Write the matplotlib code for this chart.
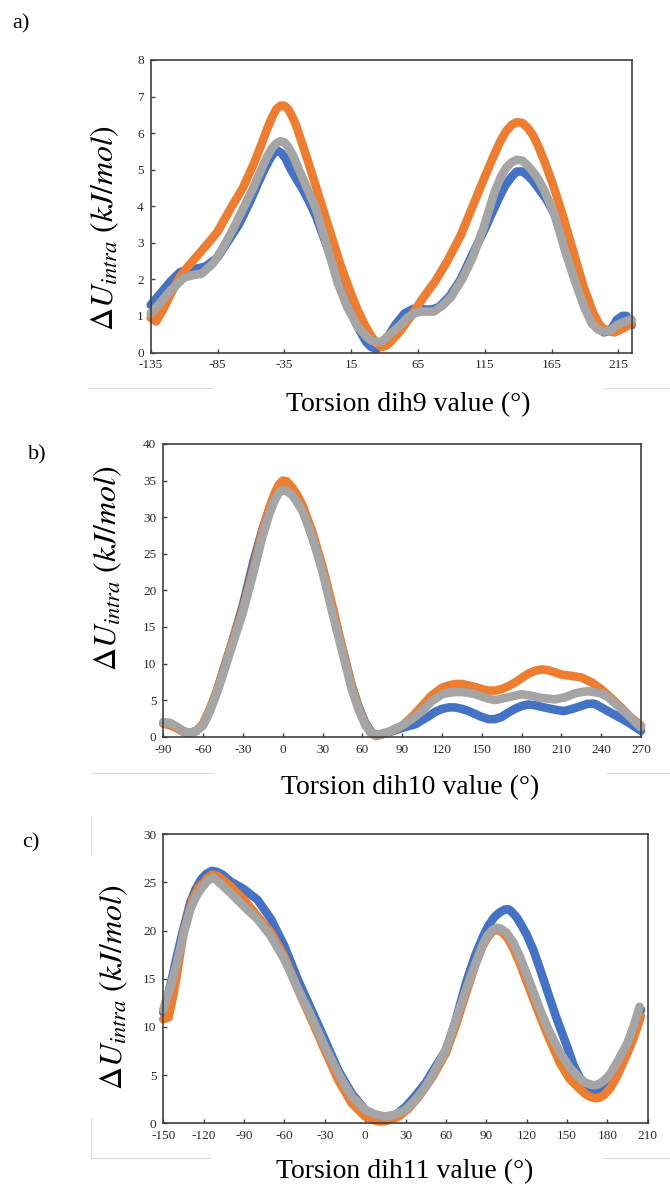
import numpy as np
import matplotlib
matplotlib.use("Agg")
import matplotlib.pyplot as plt
from matplotlib.lines import Line2D

plt.rcParams['font.family'] = ['Liberation Serif', 'DejaVu Serif']
plt.rcParams['mathtext.fontset'] = 'stix'
plt.rcParams['axes.unicode_minus'] = False

BLUE, ORANGE, GRAY = '#4472C4', '#ED7D31', '#A5A5A5'

# ---- panel a: dih9 ----
a_blue_x = [-135, -128, -120, -113, -106, -100, -94, -85, -77, -69, -61, -55, -50, -46, -43, -40, -37, -34, -30,
            -26, -21, -16, -11, -6, -1, 5, 12, 20, 26, 30, 34, 38, 42, 48, 55, 62, 67, 71, 76, 81, 89, 97, 106,
            116, 124, 130, 135, 139, 143, 147, 151, 156, 161, 167, 175, 183, 190, 198, 204, 209, 214, 218, 221,
            225]
a_blue_y = [1.3, 1.6, 1.95, 2.2, 2.28, 2.3, 2.35, 2.6, 3.05, 3.5, 4.1, 4.6, 5.0, 5.28, 5.45, 5.52, 5.45, 5.3, 5.0,
            4.75, 4.45, 4.1, 3.7, 3.2, 2.7, 2.1, 1.35, 0.7, 0.3, 0.15, 0.1, 0.2, 0.4, 0.75, 1.07, 1.2, 1.2, 1.17,
            1.18, 1.25, 1.55, 2.0, 2.7, 3.45, 4.1, 4.55, 4.8, 4.95, 4.95, 4.85, 4.7, 4.45, 4.2, 3.8, 3.0, 2.1, 1.4,
            0.8, 0.55, 0.6, 0.9, 1.0, 1.0, 0.75]
a_orange_x = [-135, -131, -126, -120, -113, -106, -100, -93, -85, -75, -66, -58, -52, -48, -44, -41, -38, -35, -32,
              -29, -26, -22, -17, -11, -5, 1, 7, 14, 20, 26, 30, 34, 38, 42, 46, 52, 60, 68, 78, 87, 97, 106, 115,
              122, 127, 131, 135, 139, 143, 147, 151, 155, 160, 166, 173, 181, 189, 196, 201, 206, 212, 218, 225]
a_orange_y = [0.95, 0.85, 1.15, 1.6, 2.08, 2.4, 2.65, 2.95, 3.3, 3.95, 4.5, 5.15, 5.7, 6.1, 6.45, 6.65, 6.75, 6.75,
              6.65, 6.45, 6.2, 5.75, 5.2, 4.5, 3.8, 3.1, 2.4, 1.7, 1.15, 0.7, 0.45, 0.25, 0.15, 0.2, 0.35, 0.6, 1.0,
              1.45, 1.95, 2.5, 3.2, 4.0, 4.8, 5.4, 5.8, 6.05, 6.22, 6.3, 6.28, 6.15, 5.95, 5.65, 5.2, 4.6, 3.8, 2.8,
              1.8, 1.1, 0.75, 0.6, 0.55, 0.65, 0.8]
a_gray_x = [-135, -128, -120, -110, -103, -97, -88, -82, -75, -67, -59, -53, -48, -44, -41, -38, -35, -32, -28,
            -24, -18, -11, -3, 5, 12, 20, 26, 30, 34, 38, 45, 52, 58, 63, 68, 73, 77, 84, 90, 98, 106, 114, 122,
            127, 131, 135, 139, 143, 147, 151, 155, 160, 167, 175, 183, 190, 195, 200, 204, 209, 214, 220, 225]
a_gray_y = [1.07, 1.35, 1.7, 2.05, 2.12, 2.15, 2.45, 2.8, 3.26, 3.85, 4.45, 4.95, 5.35, 5.6, 5.72, 5.78, 5.75, 5.62,
            5.35, 5.0, 4.5, 3.9, 2.9, 1.9, 1.25, 0.7, 0.45, 0.33, 0.28, 0.3, 0.53, 0.75, 0.98, 1.08, 1.12, 1.12,
            1.12, 1.3, 1.53, 2.0, 2.6, 3.4, 4.35, 4.8, 5.05, 5.2, 5.27, 5.25, 5.12, 4.95, 4.75, 4.4, 3.8, 2.8, 1.9,
            1.2, 0.8, 0.62, 0.57, 0.6, 0.75, 0.85, 0.9]

# ---- panel b: dih10 ----
b_blue_x = [-90, -85, -80, -75, -70, -65, -60, -55, -50, -45, -38, -30, -22, -15, -10, -6, -3, 0, 3, 7, 11, 15, 20,
            30, 38, 45, 52, 57, 62, 67, 72, 80, 90, 100, 110, 115, 120, 125, 130, 135, 140, 145, 150, 155, 160,
            165, 170, 175, 180, 185, 190, 197, 205, 212, 220, 225, 230, 235, 240, 250, 260, 270]
b_blue_y = [1.8, 1.6, 1.2, 0.7, 0.5, 0.8, 1.6, 3.5, 6.0, 9.0, 13.0, 18.0, 24.0, 28.5, 31.2, 33.0, 34.0, 34.4, 34.3,
            33.6, 32.5, 31.0, 28.5, 23.0, 17.0, 12.0, 7.0, 4.2, 2.0, 0.5, 0.2, 0.6, 1.2, 1.7, 2.8, 3.4, 3.8, 4.0,
            4.0, 3.8, 3.5, 3.1, 2.7, 2.4, 2.4, 2.7, 3.3, 3.8, 4.2, 4.4, 4.3, 4.0, 3.7, 3.5, 3.9, 4.2, 4.5, 4.5, 4.0,
            3.0, 2.0, 0.8]
b_orange_x = [-90, -85, -80, -75, -70, -65, -60, -55, -50, -45, -38, -30, -22, -15, -10, -6, -3, 0, 3, 7, 11, 15,
              22, 30, 38, 45, 52, 57, 62, 66, 70, 74, 80, 90, 98, 105, 112, 120, 125, 130, 135, 140, 145, 150, 155,
              160, 165, 170, 175, 180, 185, 190, 195, 200, 205, 210, 218, 225, 233, 240, 248, 255, 262, 270]
b_orange_y = [1.8, 1.6, 1.2, 0.7, 0.5, 0.8, 1.8, 3.8, 6.1, 8.8, 13.0, 17.4, 23.0, 28.3, 31.3, 33.3, 34.4, 35.0, 34.9,
              34.1, 33.0, 31.6, 28.2, 23.3, 17.5, 12.0, 7.0, 4.0, 1.8, 0.6, 0.1, 0.3, 0.6, 1.5, 2.8, 4.2, 5.6, 6.7,
              7.0, 7.2, 7.2, 7.0, 6.8, 6.5, 6.3, 6.3, 6.5, 6.9, 7.4, 8.0, 8.6, 9.0, 9.2, 9.1, 8.8, 8.5, 8.3, 8.1,
              7.4, 6.5, 5.2, 4.0, 2.7, 1.5]
b_gray_x = [-90, -85, -80, -75, -70, -65, -60, -55, -50, -45, -38, -30, -22, -15, -10, -6, -3, 0, 3, 7, 10, 15, 22,
            30, 38, 45, 52, 57, 62, 66, 70, 74, 80, 90, 98, 105, 112, 120, 125, 130, 135, 140, 145, 150, 155, 160,
            165, 170, 175, 180, 187, 195, 205, 213, 220, 225, 230, 235, 240, 245, 252, 260, 265, 270]
b_gray_y = [2.0, 1.9, 1.4, 0.8, 0.5, 0.8, 1.6, 3.5, 5.8, 8.5, 12.5, 17.0, 22.5, 27.5, 30.5, 32.3, 33.3, 33.7, 33.6,
            33.0, 32.3, 30.8, 27.5, 22.5, 16.5, 11.5, 6.5, 3.8, 1.7, 0.6, 0.2, 0.4, 0.7, 1.5, 2.5, 3.5, 4.8, 5.8,
            6.0, 6.1, 6.1, 6.0, 5.8, 5.5, 5.2, 5.0, 5.2, 5.4, 5.6, 5.8, 5.6, 5.3, 5.1, 5.4, 5.9, 6.1, 6.2, 6.1, 5.9,
            5.4, 4.3, 3.0, 2.1, 1.3]

# ---- panel c: dih11 ----
c_blue_x = [-150, -147, -143, -140, -135, -130, -126, -122, -118, -114, -110, -106, -100, -90, -80, -70, -60, -50,
            -40, -30, -20, -10, 0, 8, 15, 22, 30, 37, 45, 52, 60, 67, 75, 82, 88, 92, 96, 100, 104, 107, 110, 113,
            116, 120, 125, 130, 135, 142, 150, 155, 160, 164, 168, 171, 174, 178, 182, 187, 195, 200, 205]
c_blue_y = [11.5, 13.0, 15.4, 17.3, 20.2, 22.9, 24.3, 25.3, 25.9, 26.2, 26.1, 25.8, 25.1, 24.3, 23.2, 21.2, 18.4,
            14.9, 11.8, 8.7, 5.5, 3.1, 1.4, 0.7, 0.5, 0.8, 1.7, 2.8, 4.2, 5.8, 7.6, 10.5, 14.6, 17.5, 19.5, 20.6,
            21.4, 21.9, 22.2, 22.2, 21.8, 21.3, 20.6, 19.6, 18.0, 16.0, 13.9, 11.0, 8.0, 6.0, 4.6, 3.9, 3.55, 3.45,
            3.6, 4.0, 4.7, 5.8, 8.3, 10.0, 11.8]
c_orange_x = [-150, -146, -143, -140, -135, -128, -124, -120, -117, -114, -110, -107, -100, -90, -80, -70, -60, -50,
              -40, -30, -20, -10, 0, 6, 10, 14, 17, 25, 32, 40, 50, 60, 67, 75, 82, 87, 91, 94, 97, 100, 103, 106,
              110, 115, 122, 130, 137, 145, 152, 160, 164, 168, 171, 174, 178, 182, 187, 195, 200, 205]
c_orange_y = [10.8, 11.0, 13.0, 15.3, 19.8, 23.3, 24.4, 25.0, 25.5, 25.8, 25.7, 25.4, 24.6, 23.2, 21.5, 19.8, 17.3,
              13.9, 10.8, 7.6, 4.5, 2.1, 0.7, 0.35, 0.2, 0.2, 0.3, 0.7, 1.5, 2.8, 4.8, 7.3, 10.0, 13.5, 16.5, 18.3,
              19.3, 19.8, 20.1, 20.0, 19.7, 19.2, 18.2, 16.6, 14.0, 11.1, 8.7, 6.2, 4.6, 3.5, 3.0, 2.7, 2.6, 2.65,
              3.0, 3.6, 4.8, 7.3, 9.0, 11.1]
c_gray_x = [-150, -145, -140, -135, -130, -125, -121, -117, -113, -110, -107, -100, -90, -80, -70, -60, -50, -40,
            -30, -20, -10, 0, 8, 15, 22, 30, 37, 45, 52, 60, 67, 75, 82, 87, 91, 95, 98, 101, 105, 110, 115, 122,
            130, 137, 145, 152, 160, 164, 168, 171, 174, 178, 182, 187, 195, 200, 204]
c_gray_y = [11.8, 14.0, 16.6, 19.6, 22.2, 23.7, 24.5, 25.2, 25.5, 25.2, 24.8, 23.9, 22.5, 21.2, 19.4, 17.0, 14.0,
            11.1, 8.0, 5.2, 2.8, 1.4, 0.9, 0.7, 0.9, 1.4, 2.4, 3.8, 5.5, 7.6, 10.5, 13.9, 16.6, 18.4, 19.5, 20.1,
            20.3, 20.2, 19.8, 18.8, 17.3, 14.8, 11.8, 9.5, 7.3, 5.8, 4.6, 4.2, 4.0, 3.95, 4.1, 4.5, 5.1, 6.3, 8.3,
            10.3, 12.1]

W, H = 670, 1188
fig = plt.figure(figsize=(W / 100, H / 100), dpi=100)


def px_axes(left, top, right, bottom):
    return fig.add_axes([left / W, 1 - bottom / H, (right - left) / W, (bottom - top) / H])


def panel(rect, series, xlim, xticks, ylim, yticks, xlabel, xlab_pos, ylab_pos, tag, tag_pos):
    ax = px_axes(*rect)
    for x, y, c in series:
        ax.plot(x, y, color=c, lw=6.2, solid_capstyle='round', solid_joinstyle='round', clip_on=False)
    ax.set_xlim(*xlim)
    ax.set_ylim(*ylim)
    ax.set_xticks(xticks)
    ax.set_yticks(yticks)
    ax.tick_params(direction='in', length=3, width=1, color='#404040', labelsize=9.5,
                   labelcolor='#2b2b2b', pad=5)
    for s in ax.spines.values():
        s.set_color('#404040')
        s.set_linewidth(1.2)
    fig.text(xlab_pos[0] / W, 1 - xlab_pos[1] / H, xlabel, fontsize=20, ha='center', va='center')
    fig.text(ylab_pos[0] / W, 1 - ylab_pos[1] / H, r'$\mathit{\Delta}U_{intra}\ (kJ/mol)$',
             fontsize=23, rotation=90, ha='center', va='center')
    fig.text(tag_pos[0] / W, 1 - tag_pos[1] / H, tag, fontsize=16, ha='center', va='center')
    return ax


panel((150.7, 60, 631.7, 352.5),
      [(a_blue_x, a_blue_y, BLUE), (a_orange_x, a_orange_y, ORANGE), (a_gray_x, a_gray_y, GRAY)],
      (-135, 225), np.arange(-135, 216, 50), (0, 8), np.arange(0, 9, 1),
      'Torsion dih9 value (°)', (408, 405), (105, 228), 'a)', (21, 24))

panel((163.3, 444, 641, 736.7),
      [(b_blue_x, b_blue_y, BLUE), (b_orange_x, b_orange_y, ORANGE), (b_gray_x, b_gray_y, GRAY)],
      (-90, 270), np.arange(-90, 271, 30), (0, 40), np.arange(0, 41, 5),
      'Torsion dih10 value (°)', (410, 788), (108, 568), 'b)', (37, 455))

panel((163.3, 834.3, 647.7, 1123.3),
      [(c_blue_x, c_blue_y, BLUE), (c_orange_x, c_orange_y, ORANGE), (c_gray_x, c_gray_y, GRAY)],
      (-150, 210), np.arange(-150, 211, 30), (0, 30), np.arange(0, 31, 5),
      'Torsion dih11 value (°)', (405, 1172), (114, 987), 'c)', (31, 843))

# faint crop edges visible in the source figure
faint = '#dcdcdc'
for (x0, y0, x1, y1) in [(88, 388, 212, 388), (604, 388, 670, 388),
                         (92, 773, 213, 773), (607, 773, 670, 773),
                         (91, 818, 91, 854), (91, 1118, 91, 1158),
                         (91, 1158, 210, 1158), (602, 1158, 670, 1158)]:
    fig.add_artist(Line2D([x0 / W, x1 / W], [1 - y0 / H, 1 - y1 / H], color=faint, lw=0.8))

fig.savefig('out.png', dpi=100)
